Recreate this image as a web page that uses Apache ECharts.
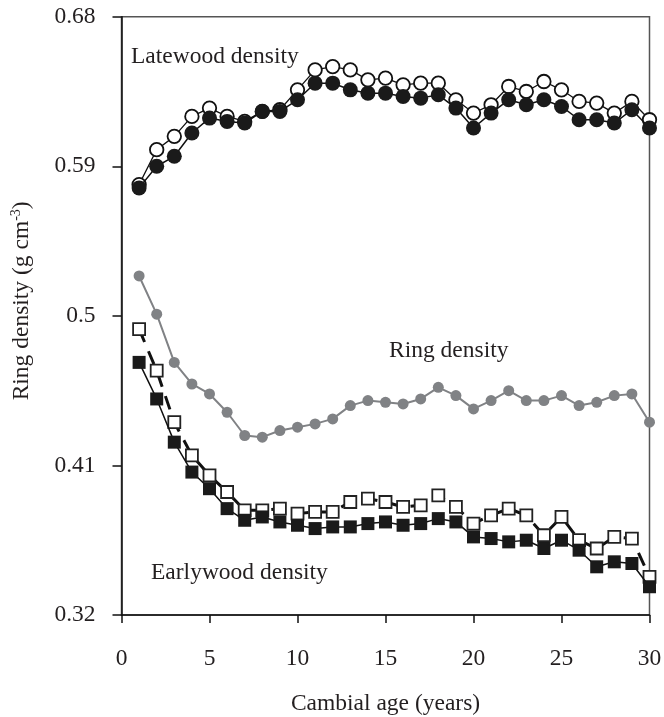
<!DOCTYPE html>
<html>
<head>
<meta charset="utf-8">
<script src="https://cdn.jsdelivr.net/npm/echarts@6/dist/echarts.min.js"></script>
<style>html,body{margin:0;padding:0;background:#fff}#c{width:664px;height:717px}</style>
</head>
<body>
<div id="c"></div>
<script>
var ages = [1,2,3,4,5,6,7,8,9,10,11,12,13,14,15,16,17,18,19,20,21,22,23,24,25,26,27,28,29,30];
var lateFilled = [0.577,0.590,0.596,0.610,0.619,0.617,0.616,0.623,0.623,0.630,0.640,0.640,0.636,0.634,0.634,0.632,0.631,0.633,0.625,0.613,0.622,0.630,0.627,0.630,0.626,0.618,0.618,0.616,0.624,0.613];
var lateOpen = [0.579,0.600,0.608,0.620,0.625,0.620,0.617,0.623,0.624,0.636,0.648,0.650,0.648,0.642,0.643,0.639,0.640,0.640,0.630,0.622,0.627,0.638,0.635,0.641,0.636,0.629,0.628,0.622,0.629,0.618];
var ring = [0.524,0.501,0.472,0.459,0.453,0.442,0.428,0.427,0.431,0.433,0.435,0.438,0.446,0.449,0.448,0.447,0.450,0.457,0.452,0.444,0.449,0.455,0.449,0.449,0.452,0.446,0.448,0.452,0.453,0.436];
var earlyFilled = [0.472,0.450,0.424,0.406,0.396,0.384,0.377,0.379,0.376,0.374,0.372,0.373,0.373,0.375,0.376,0.374,0.375,0.378,0.376,0.367,0.366,0.364,0.365,0.360,0.365,0.359,0.349,0.352,0.351,0.337];
var earlyOpen = [0.492,0.467,0.436,0.416,0.404,0.394,0.383,0.383,0.384,0.381,0.382,0.382,0.388,0.390,0.388,0.385,0.386,0.392,0.385,0.375,0.380,0.384,0.380,0.368,0.379,0.365,0.360,0.367,0.366,0.343];
var yTicks = [0.32, 0.41, 0.5, 0.59, 0.68];
var xTicks = [0, 5, 10, 15, 20, 25, 30];

function pairs(vals){ return ages.map(function(a,i){ return [a, vals[i]]; }); }

var FONT = '"Liberation Serif", "Times New Roman", serif';
var TXT = '#231f20';

var chart = echarts.init(document.getElementById('c'), null, {renderer:'canvas'});
chart.setOption({
  animation: false,
  backgroundColor: '#fff',
  grid: {left: 121.5, right: 14.5, top: 16.7, bottom: 102, outerBoundsMode: 'none', containLabel: false,
    show: true, borderColor: '#555', borderWidth: 1.5, backgroundColor: 'transparent'},
  xAxis: {
    type: 'value', min: 0, max: 30,
    axisLine: {show: true, lineStyle: {color: '#111', width: 1.5}},
    axisTick: {show: true, inside: false, length: 8, lineStyle: {color: '#111', width: 1.5}, customValues: xTicks},
    axisLabel: {customValues: xTicks, margin: 32, fontFamily: FONT, fontSize: 23.5, color: TXT},
    splitLine: {show: false},
    name: 'Cambial age (years)', nameLocation: 'middle', nameGap: 77,
    nameTextStyle: {fontFamily: FONT, fontSize: 23.5, color: TXT}
  },
  yAxis: {
    type: 'value', min: 0.32, max: 0.68,
    axisLine: {show: true, lineStyle: {color: '#111', width: 1.5}},
    axisTick: {show: true, inside: false, length: 9, lineStyle: {color: '#111', width: 1.5}, customValues: yTicks},
    axisLabel: {customValues: yTicks, margin: 26, fontFamily: FONT, fontSize: 23.5, color: TXT,
      formatter: function(v){ return String(Math.round(v*100)/100); }},
    splitLine: {show: false},
    name: '{a|Ring density (g cm}{s|-3}{a|)}', nameLocation: 'middle', nameGap: 88,
    nameTextStyle: {fontFamily: FONT, fontSize: 23.5, color: TXT, padding: [0,0,0,30],
      rich: {a: {fontFamily: FONT, fontSize: 23.5, color: TXT},
             s: {fontFamily: FONT, fontSize: 14, color: TXT, padding: [0,0,10,0]}}}
  },
  graphic: [
    {type: 'text', left: 131, top: 45, style: {text: 'Latewood density', fontFamily: FONT, fontSize: 23.5, fill: TXT}},
    {type: 'text', left: 389, top: 339, style: {text: 'Ring density', fontFamily: FONT, fontSize: 23.5, fill: TXT}},
    {type: 'text', left: 151, top: 561, style: {text: 'Earlywood density', fontFamily: FONT, fontSize: 23.5, fill: TXT}}
  ],
  series: [
    {type: 'line', data: pairs(ring), symbol: 'circle', symbolSize: 11, z: 2,
      itemStyle: {color: '#808285'}, lineStyle: {color: '#808285', width: 2}},
    {type: 'line', data: pairs(lateOpen), symbol: 'circle', symbolSize: 13.5, z: 3,
      itemStyle: {color: '#fff', borderColor: '#111', borderWidth: 1.8}, lineStyle: {color: '#111', width: 1.3}},
    {type: 'line', data: pairs(lateFilled), symbol: 'circle', symbolSize: 15, z: 4,
      itemStyle: {color: '#1a1a1a', borderColor: '#1a1a1a', borderWidth: 0}, lineStyle: {color: '#111', width: 1.5}},
    {type: 'line', data: pairs(earlyOpen), symbol: 'rect', symbolSize: 12, z: 3,
      itemStyle: {color: '#fff', borderColor: '#222', borderWidth: 1.8}, lineStyle: {color: '#111', width: 3, type: [14, 10]}},
    {type: 'line', data: pairs(earlyFilled), symbol: 'rect', symbolSize: 13, z: 4,
      itemStyle: {color: '#1a1a1a', borderColor: '#1a1a1a', borderWidth: 0}, lineStyle: {color: '#111', width: 1.5}}
  ]
});
</script>
</body>
</html>
